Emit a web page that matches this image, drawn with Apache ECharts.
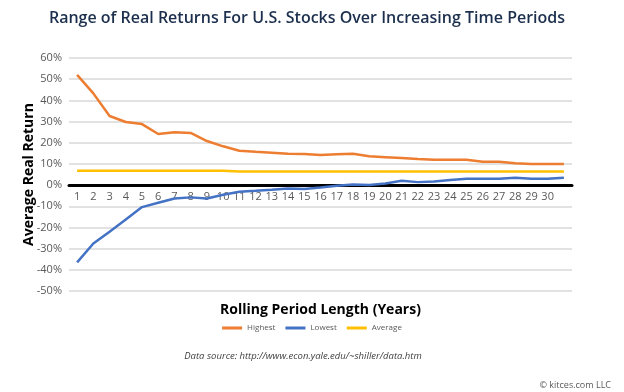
<!DOCTYPE html>
<html><head><meta charset="utf-8">
<script src="https://cdn.jsdelivr.net/npm/echarts@6/dist/echarts.min.js"></script>
<style>html,body{margin:0;padding:0;background:#fff}#c{width:624px;height:392px}</style>
</head><body><div id="c"></div>
<script>
const categories = ['1','2','3','4','5','6','7','8','9','10','11','12','13','14','15','16','17','18','19','20','21','22','23','24','25','26','27','28','29','30',''];
const highest = [52,43.3,32.6,29.8,28.8,24.1,25,24.6,20.8,18.3,16.2,15.7,15.3,14.8,14.7,14.2,14.6,14.8,13.6,13.2,12.8,12.3,12,12,12,11,11,10.3,9.9,9.9,9.9];
const lowest = [-36.5,-27.6,-22,-16.2,-10.4,-8.3,-6.3,-5.8,-6.3,-4.6,-3.1,-2.7,-2.2,-1.6,-1.8,-1.1,-0.3,0.3,0,0.8,2,1.4,1.7,2.4,3,3,3,3.5,3,3,3.5];
const average = [6.8,6.8,6.8,6.8,6.8,6.8,6.8,6.8,6.8,6.8,6.4,6.4,6.4,6.4,6.4,6.4,6.4,6.4,6.4,6.4,6.4,6.4,6.4,6.4,6.4,6.4,6.4,6.4,6.4,6.4,6.4];
const seriesNames = ['Highest','Lowest','Average'];
const colors = ['#ED7D31','#4472C4','#FFC000'];
const FONT = '"Open Sans", "Noto Sans", sans-serif';

const chart = echarts.init(document.getElementById('c'), null, {renderer:'canvas'});
const dataSets = [highest, lowest, average];
chart.setOption({
  animation:false,
  color: colors,
  textStyle:{fontFamily:FONT},
  title:[
    {text:'Range of Real Returns For U.S. Stocks Over Increasing Time Periods', left:302, textAlign:'center', top:5,
     textStyle:{fontFamily:FONT, fontSize:16, fontWeight:600, color:'#1c2f4d'}},
    {text:'Data source: http://www.econ.yale.edu/~shiller/data.htm', left:298, textAlign:'center', top:346,
     textStyle:{fontFamily:FONT, fontSize:9.5, fontStyle:'italic', fontWeight:'normal', color:'#404040'}},
    {text:'© kitces.com LLC', right:8, top:376,
     textStyle:{fontFamily:FONT, fontSize:9, fontWeight:'normal', color:'#595959'}}
  ],
  legend:{
    data: seriesNames, top:319, left:'center', itemWidth:20, itemHeight:3, itemGap:10, icon:'rect',
    textStyle:{fontFamily:FONT, fontSize:8, color:'#595959'}
  },
  grid:{left:69, right:52, top:58, bottom:101, containLabel:false, outerBoundsMode:'none'},
  xAxis:{
    type:'category', data:categories, boundaryGap:true, position:'bottom', offset:-106,
    name:'Rolling Period Length (Years)', nameLocation:'middle', nameGap:118, nameMoveOverlap:false,
    nameTextStyle:{fontFamily:FONT, fontSize:14, fontWeight:'bold', color:'#000'},
    axisLine:{onZero:false, lineStyle:{color:'#000', width:3}},
    axisTick:{show:false},
    axisLabel:{interval:0, fontSize:11, color:'#595959', margin:6, fontFamily:FONT}
  },
  yAxis:{
    type:'value', min:-50, max:60, interval:10,
    name:'Average Real Return', nameLocation:'middle', nameGap:33, nameMoveOverlap:false,
    nameTextStyle:{fontFamily:FONT, fontSize:14, fontWeight:'bold', color:'#000'},
    axisLine:{show:false}, axisTick:{show:false},
    axisLabel:{formatter:'{value}%', fontSize:11, color:'#595959', margin:7, fontFamily:FONT},
    splitLine:{lineStyle:{color:'#d9d9d9', width:1.5}}
  },
  series: seriesNames.map((n,i)=>({
    name:n, type:'line', data:dataSets[i], symbol:'none', smooth:false,
    lineStyle:{width:2.5, color:colors[i]}, z: i===1?4:3
  }))
});
</script></body></html>
